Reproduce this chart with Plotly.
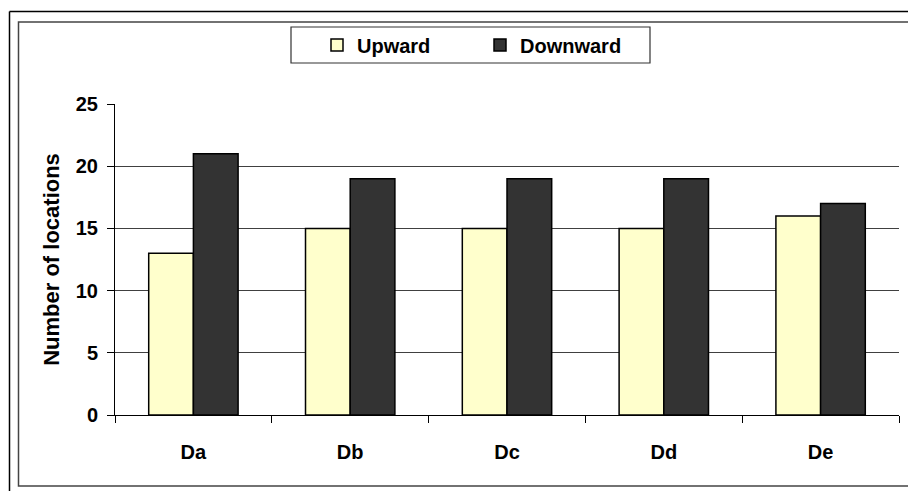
import plotly.graph_objects as go

categories = ["Da", "Db", "Dc", "Dd", "De"]
upward = [13, 15, 15, 15, 16]
downward = [21, 19, 19, 19, 17]
y_ticks = [0, 5, 10, 15, 20, 25]

# page body has an 8px margin, so work in picture coords and shift
OFF = 8
W, H = 916 - OFF, 491 - OFF
L, R, T, B = 115 - OFF, 899 - OFF, 104 - OFF, 415 - OFF

def px(x):
    return (x - OFF - L) / (R - L)

def py(y):
    return (B - (y - OFF)) / (B - T)

FONT = "Arial, Liberation Sans, sans-serif"

fig = go.Figure()
fig.add_trace(go.Bar(name="Upward", x=categories, y=upward,
                     marker=dict(color="#FFFFCC", line=dict(color="black", width=1.5))))
fig.add_trace(go.Bar(name="Downward", x=categories, y=downward,
                     marker=dict(color="#333333", line=dict(color="black", width=1.5))))

fig.update_layout(
    width=W, height=H,
    margin=dict(l=L, r=W - R, t=T, b=H - B, pad=0),
    paper_bgcolor="white", plot_bgcolor="white",
    barmode="group", bargap=0.43, bargroupgap=0,
    font=dict(family=FONT, size=16, color="black"),
    showlegend=True,
    legend=dict(orientation="h", x=px(317), xanchor="left", y=py(45), yanchor="middle",
                borderwidth=0, bgcolor="rgba(0,0,0,0)",
                font=dict(family=FONT, size=20, color="black", weight="bold"),
                entrywidth=118, itemwidth=30, traceorder="normal"),
    xaxis=dict(type="category", tickson="boundaries", ticks="outside", ticklen=7,
               tickcolor="black", showline=True, linecolor="black", linewidth=1,
               showgrid=False, ticklabelstandoff=19,
               tickfont=dict(family=FONT, size=20, color="black", weight="bold")),
    yaxis=dict(range=[0, 25], tickvals=y_ticks, ticks="outside", ticklen=7,
               tickcolor="black", showline=True, linecolor="black", linewidth=1,
               showgrid=True, gridcolor="#404040", gridwidth=1, ticklabelstandoff=5,
               tickfont=dict(family=FONT, size=20, color="black", weight="bold"),
               title=dict(text="Number of locations", standoff=10,
                          font=dict(family=FONT, size=22, color="black", weight="bold"))),
)

# outer frames
fig.add_shape(type="line", xref="paper", yref="paper", x0=px(9.5), x1=px(9.5), y0=py(11.5), y1=py(500),
              line=dict(color="black", width=1.5))
fig.add_shape(type="line", xref="paper", yref="paper", x0=px(9.5), x1=px(930), y0=py(11.5), y1=py(11.5),
              line=dict(color="black", width=1.5))
fig.add_shape(type="rect", xref="paper", yref="paper", x0=px(18.5), x1=px(914), y0=py(22), y1=py(486),
              line=dict(color="#444444", width=1.5))
# legend box
fig.add_shape(type="rect", xref="paper", yref="paper", x0=px(291), x1=px(650), y0=py(27), y1=py(63),
              line=dict(color="#333333", width=1.2), layer="below")

fig.write_html("out.html")
